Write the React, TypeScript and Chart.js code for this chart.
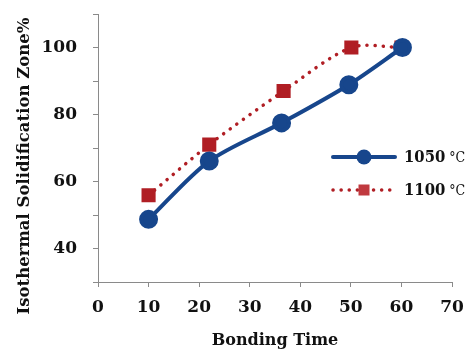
import React, { useEffect, useRef } from "react";
import { Chart, registerables } from "chart.js";

Chart.register(...registerables);

const bondingTime1050 = [10, 22, 36.3, 49.6, 60.2];
const zone1050 = [48.7, 66.1, 77.5, 88.9, 100];
const bondingTime1100 = [10, 22, 36.7, 50.1, 60];
const zone1100 = [55.9, 71, 87, 100, 100];
const seriesLabels = ["1050", "1100"];
const unitLabel = "°C";
const xTitle = "Bonding Time";
const yTitle = "Isothermal Solidification Zone%";
const yLabeledTicks = [40, 60, 80, 100];

const BLUE = "#17468c";
const RED = "#b01e24";
const RED_LEGEND = "#c0393f";
const AXIS = "#8a8a8a";
const FONT = "'DejaVu Serif', 'Liberation Serif', serif";
const FONT_COND = "'DejaVu Serif Condensed', 'DejaVu Serif', serif";

const customPlugin = {
  id: "customDecor",
  afterDraw(chart: any) {
    const ctx = chart.ctx as CanvasRenderingContext2D;
    ctx.save();
    ctx.fillStyle = "#111";
    ctx.font = `bold 16.5px ${FONT}`;
    ctx.textAlign = "center";
    ctx.textBaseline = "middle";
    ctx.translate(25, 166);
    ctx.rotate(-Math.PI / 2);
    ctx.fillText(yTitle, 0, 0);
    ctx.restore();

    const rows = [
      { y: 157, color: BLUE, dash: false, label: seriesLabels[0] },
      { y: 190, color: RED, dash: true, label: seriesLabels[1] },
    ];
    const x0 = 333;
    const x1 = 395;
    rows.forEach((r) => {
      ctx.save();
      ctx.strokeStyle = r.color;
      if (r.dash) {
        ctx.lineWidth = 3.5;
        ctx.lineCap = "round";
        ctx.setLineDash([0.1, 8]);
      } else {
        ctx.lineWidth = 4;
        ctx.lineCap = "round";
      }
      ctx.beginPath();
      ctx.moveTo(x0, r.y);
      ctx.lineTo(x1, r.y);
      ctx.stroke();
      ctx.setLineDash([]);
      const cx = (x0 + x1) / 2;
      if (r.dash) {
        ctx.fillStyle = RED_LEGEND;
        ctx.fillRect(cx - 5.5, r.y - 5.5, 11, 11);
      } else {
        ctx.fillStyle = BLUE;
        ctx.beginPath();
        ctx.arc(cx, r.y, 7.5, 0, Math.PI * 2);
        ctx.fill();
      }
      ctx.fillStyle = "#111";
      ctx.textAlign = "left";
      ctx.textBaseline = "middle";
      ctx.font = `bold 16.5px ${FONT_COND}`;
      ctx.fillText(r.label, 404, r.y + 1);
      const w = ctx.measureText(r.label).width;
      ctx.font = `14px ${FONT_COND}`;
      ctx.fillText(" " + unitLabel, 404 + w, r.y + 1);
      ctx.restore();
    });
  },
};

export default function App() {
  const ref = useRef<HTMLCanvasElement | null>(null);
  useEffect(() => {
    if (!ref.current) return;
    const chart = new Chart(ref.current, {
      type: "line",
      data: {
        datasets: [
          {
            label: seriesLabels[0] + " " + unitLabel,
            data: bondingTime1050.map((x, i) => ({ x, y: zone1050[i] })),
            borderColor: BLUE,
            backgroundColor: BLUE,
            borderWidth: 4,
            pointRadius: 7.5,
            pointHoverRadius: 7.5,
            pointStyle: "circle",
            tension: 0.3,
          },
          {
            label: seriesLabels[1] + " " + unitLabel,
            data: bondingTime1100.map((x, i) => ({ x, y: zone1100[i] })),
            borderColor: RED,
            backgroundColor: RED,
            borderWidth: 3.5,
            borderDash: [0.1, 8],
            borderCapStyle: "round",
            pointRadius: 7.5,
            pointHoverRadius: 7.5,
            pointStyle: "rect",
            tension: 0.3,
          },
        ],
      },
      options: {
        animation: false,
        responsive: false,
        maintainAspectRatio: false,
        layout: { padding: { left: 38, right: 24, top: 14, bottom: 4 } },
        plugins: { legend: { display: false }, tooltip: { enabled: false } },
        scales: {
          x: {
            type: "linear",
            min: 0,
            max: 70,
            ticks: {
              stepSize: 10,
              color: "#111",
              font: { family: FONT, size: 17, weight: "bold" },
              padding: 10,
            },
            grid: { drawOnChartArea: false, drawTicks: true, tickLength: 5, color: AXIS },
            border: { display: true, color: AXIS, width: 1 },
            title: {
              display: true,
              text: xTitle,
              color: "#111",
              font: { family: FONT, size: 16, weight: "bold" },
              padding: { top: 0, bottom: 0 },
            },
            afterFit: (s: any) => {
              s.height = 354 - 282 - 4;
            },
          },
          y: {
            type: "linear",
            min: 30,
            max: 110,
            ticks: {
              stepSize: 10,
              color: "#111",
              font: { family: FONT, size: 17, weight: "bold" },
              padding: 16,
              callback: (v: any) => (yLabeledTicks.includes(Number(v)) ? String(v) : ""),
            },
            grid: { drawOnChartArea: false, drawTicks: true, tickLength: 5, color: AXIS },
            border: { display: true, color: AXIS, width: 1 },
            afterFit: (s: any) => {
              s.width = 98 - 38;
              s.paddingTop = 0;
              s.paddingBottom = 0;
            },
          },
        },
      },
      plugins: [customPlugin],
    });
    return () => chart.destroy();
  }, []);
  return (
    <div style={{ position: "fixed", left: 0, top: 0, width: 476, height: 354, background: "#fff" }}>
      <canvas ref={ref} width={476} height={354} style={{ display: "block" }} />
    </div>
  );
}
